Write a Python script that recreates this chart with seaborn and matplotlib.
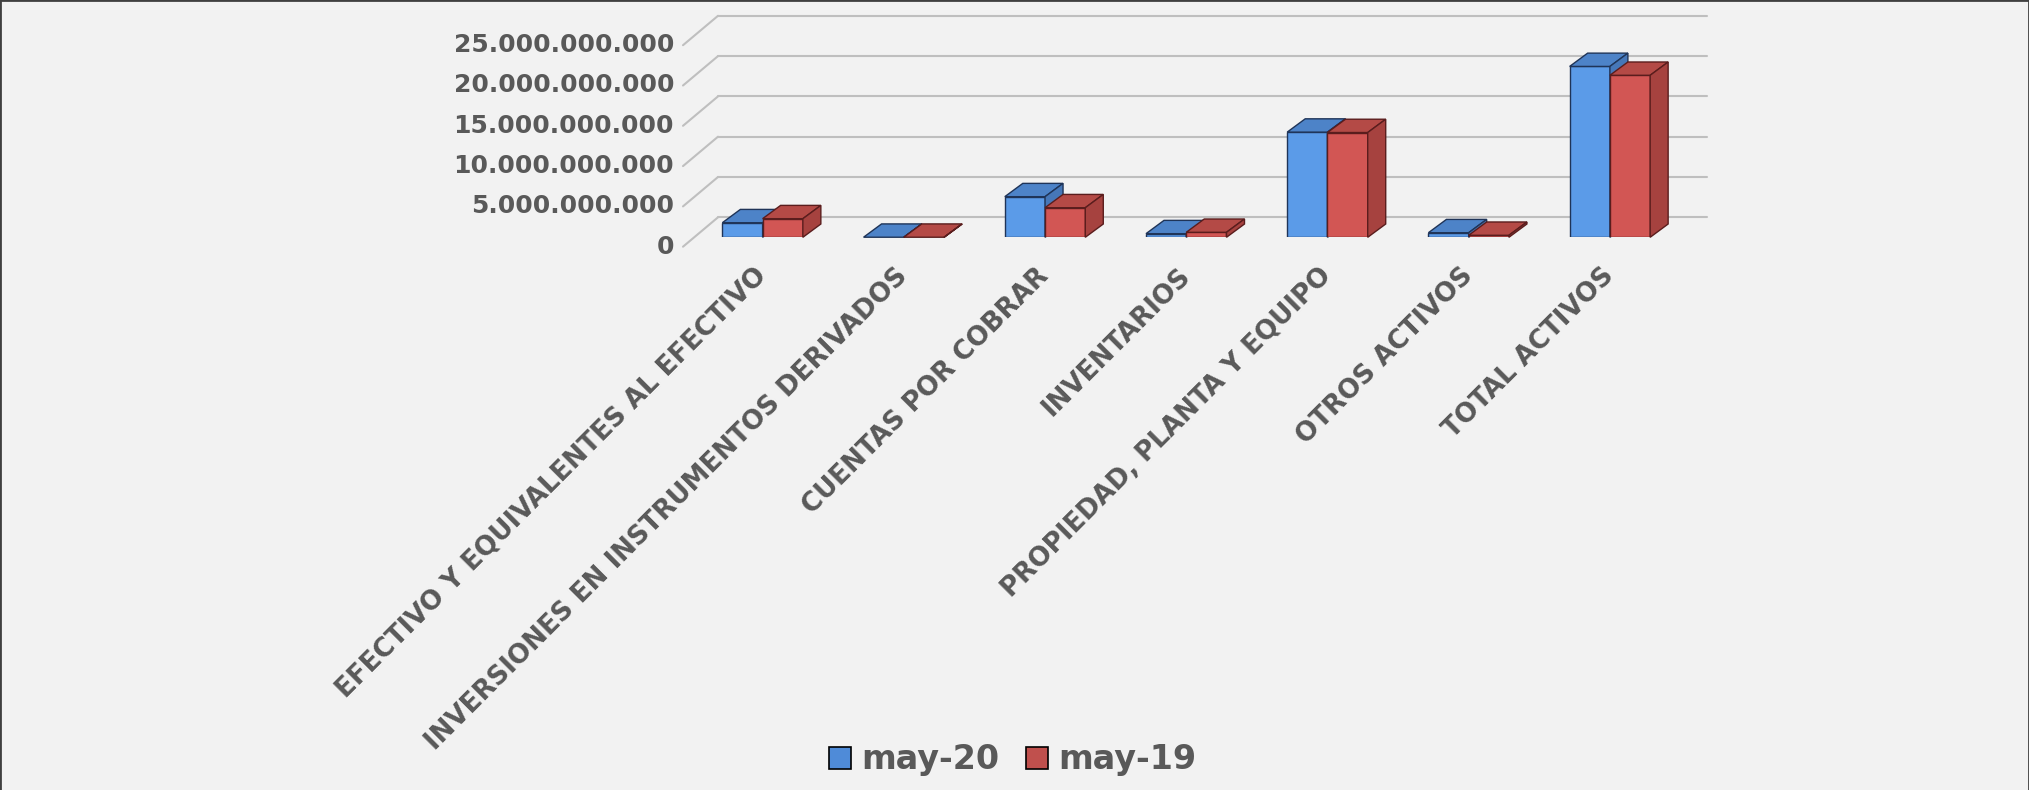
import numpy as np
import pandas as pd
import matplotlib
matplotlib.use("Agg")
import matplotlib.pyplot as plt
import seaborn as sns
from matplotlib.patches import Polygon, Patch
from matplotlib.lines import Line2D
from matplotlib.transforms import blended_transform_factory, ScaledTranslation

# ---------------- data ----------------
categories = [
    "EFECTIVO Y EQUIVALENTES AL EFECTIVO",
    "INVERSIONES EN INSTRUMENTOS DERIVADOS",
    "CUENTAS POR COBRAR",
    "INVENTARIOS",
    "PROPIEDAD, PLANTA Y EQUIPO",
    "OTROS ACTIVOS",
    "TOTAL ACTIVOS",
]
series_names = ["may-20", "may-19"]
may20 = [1.81e9, 0.01e9, 5.04e9, 0.45e9, 13.05e9, 0.57e9, 21.2e9]
may19 = [2.31e9, 0.01e9, 3.67e9, 0.62e9, 13.0e9, 0.25e9, 20.1e9]
y_ticks = [0, 5e9, 10e9, 15e9, 20e9, 25e9]

# ---------------- style ----------------
BG = "#F2F2F2"
TXT = "#595959"
GRID = "#BFBFBF"
front_cols = ["#5B9BE8", "#D25654"]
top_cols = ["#4D83C8", "#B44A46"]
side_cols = ["#4677B8", "#A6423F"]
edge_cols = ["#1F3458", "#5A1D1D"]
legend_cols = ["#4F8BD8", "#C0504D"]

sns.set_theme(style="white")
plt.rcParams["font.family"] = ["DejaVu Sans"]

W, H, DPI = 2029, 790, 100
fig = plt.figure(figsize=(W / DPI, H / DPI), dpi=DPI, facecolor=BG)

# axes = front plane of the bars (pixel geometry)
ax_left_px, ax_right_px = 692.0, 1680.5
ax_bottom_px, ax_top_px = 237.3, 35.8
ax = fig.add_axes([ax_left_px / W, 1 - ax_bottom_px / H,
                   (ax_right_px - ax_left_px) / W, (ax_bottom_px - ax_top_px) / H])
ax.set_facecolor("none")

df = pd.DataFrame({
    "categoria": categories * 2,
    "periodo": [series_names[0]] * len(categories) + [series_names[1]] * len(categories),
    "valor": may20 + may19,
})

sns.barplot(data=df, x="categoria", y="valor", hue="periodo", order=categories,
            hue_order=series_names, palette=front_cols, width=0.57, gap=0,
            saturation=1, errorbar=None, legend=False, ax=ax)

ax.set_xlim(-0.5, 6.5)
ax.set_ylim(0, 25e9)
for s in ax.spines.values():
    s.set_visible(False)
ax.grid(False)
ax.set_xlabel("")
ax.set_ylabel("")

# pixel -> data unit conversion
px_per_x = (ax_right_px - ax_left_px) / 7.0
px_per_y = (ax_bottom_px - ax_top_px) / 25e9
def dx(px):
    return px / px_per_x
def dy(px):
    return px / px_per_y

# back wall and side-wall gridlines
back_dx, back_dy = 26, 20
front_dx, front_dy = -9, -9.4
x0, x1 = ax.get_xlim()
for v in y_ticks:
    ax.plot([x0 + dx(back_dx), x1 + dx(back_dx)], [v + dy(back_dy)] * 2,
            color=GRID, lw=1.5, zorder=0.5, clip_on=False)
    ax.plot([x0 + dx(front_dx), x0 + dx(back_dx)],
            [v + dy(front_dy), v + dy(back_dy)],
            color=GRID, lw=1.5, zorder=0.5, clip_on=False)

# 3D faces on each bar
depth_dx, depth_dy = 18, 13.3
for k, cont in enumerate(ax.containers):
    for bar in cont:
        bx, bw, bh = bar.get_x(), bar.get_width(), bar.get_height()
        bar.set_facecolor(front_cols[k])
        bar.set_edgecolor(edge_cols[k])
        bar.set_linewidth(1.0)
        bar.set_zorder(2 + k)
        ddx, ddy = dx(depth_dx), dy(depth_dy)
        top = Polygon([(bx, bh), (bx + bw, bh), (bx + bw + ddx, bh + ddy), (bx + ddx, bh + ddy)],
                      closed=True, facecolor=top_cols[k], edgecolor=edge_cols[k],
                      lw=1.0, zorder=2 + k, clip_on=False)
        side = Polygon([(bx + bw, 0), (bx + bw + ddx, ddy), (bx + bw + ddx, bh + ddy), (bx + bw, bh)],
                       closed=True, facecolor=side_cols[k], edgecolor=edge_cols[k],
                       lw=1.0, zorder=2 + k, clip_on=False)
        ax.add_patch(top)
        ax.add_patch(side)

# y tick labels positioned at the front edge of the floor/side wall
ax.set_yticks(y_ticks)
ax.set_yticklabels([])
ax.tick_params(axis="y", length=0)
def fmt(v):
    return f"{int(v):,}".replace(",", ".")
ytrans = blended_transform_factory(ax.transAxes, ax.transData) + \
    ScaledTranslation(-18 / DPI, -9.4 / DPI, fig.dpi_scale_trans)
for v in y_ticks:
    ax.text(0, v, fmt(v), transform=ytrans, ha="right", va="center",
            fontsize=18, fontweight="bold", color=TXT)

# x tick labels
ax.set_xticks(range(len(categories)))
ax.set_xticklabels(categories)
ax.tick_params(axis="x", length=0, pad=25)
for lbl in ax.get_xticklabels():
    lbl.set_rotation(45)
    lbl.set_ha("right")
    lbl.set_va("center")
    lbl.set_rotation_mode("anchor")
    lbl.set_fontsize(18.8)
    lbl.set_fontweight("bold")
    lbl.set_color(TXT)

# legend
handles = [Patch(facecolor=legend_cols[i], edgecolor="black", lw=1.2) for i in range(2)]
fig.legend(handles, series_names, loc="center", bbox_to_anchor=(1012.5 / W, 1 - 760 / H),
           ncol=2, frameon=False, handlelength=0.66, handleheight=0.66,
           handletextpad=0.3, columnspacing=0.8,
           prop={"size": 24, "weight": "bold"}, labelcolor=TXT)

# outer border (top, left, right)
for xs, ys in [([0, 1], [1, 1]), ([0, 0], [0, 1]), ([1, 1], [0, 1])]:
    fig.add_artist(Line2D(xs, ys, transform=fig.transFigure, color="#404040", lw=2.0))

fig.savefig("out.png", dpi=DPI, facecolor=BG)
